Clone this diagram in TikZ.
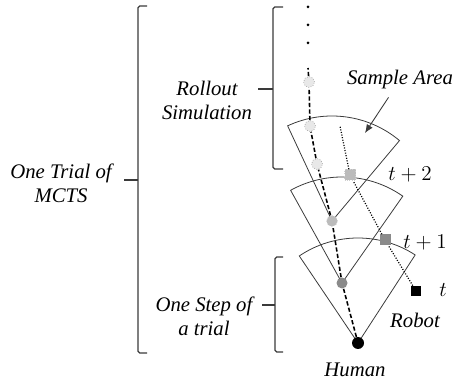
\documentclass[tikz,border=0pt]{standalone}
\usepackage{fontspec}
\setmainfont{Liberation Serif}
\usetikzlibrary{arrows.meta,backgrounds}
\definecolor{ink}{HTML}{3A3A3A}
\definecolor{paleGrey}{HTML}{E8E8E8}
\definecolor{lightGrey}{HTML}{BBBBBB}
\definecolor{midGrey}{HTML}{8A8A8A}
\tikzset{
  caption/.style={font=\fontsize{11.8}{13.7}\selectfont\itshape, align=center, inner sep=1pt},
  timelbl/.style={font=\fontsize{12}{14}\selectfont, inner sep=1pt},
  sector/.style={draw=ink, line width=0.45pt},
  brace/.style={draw=ink, line width=0.7pt, rounded corners=1pt},
  humanpos/.style={circle, fill=black, minimum size=0.24cm, inner sep=0pt},
  nextpos/.style={circle, fill=midGrey, minimum size=0.22cm, inner sep=0pt},
  futurepos/.style={circle, fill=lightGrey, draw=lightGrey!70, densely dotted, minimum size=0.22cm, inner sep=0pt},
  rolloutpos/.style={circle, fill=paleGrey, draw=gray!70, densely dotted, minimum size=0.22cm, inner sep=0pt},
  robotpos/.style={rectangle, fill=black, minimum size=0.2cm, inner sep=0pt},
  robotnext/.style={rectangle, fill=midGrey, minimum size=0.22cm, inner sep=0pt},
  robotfuture/.style={rectangle, fill=lightGrey, draw=lightGrey!70, densely dotted, minimum size=0.22cm, inner sep=0pt},
  ellipsisdot/.style={circle, fill=black, minimum size=0.06cm, inner sep=0pt},
  simpath/.style={draw=black, line width=0.9pt, dash pattern=on 2.4pt off 1.3pt},
  robotpath/.style={draw=black, line width=0.7pt, dash pattern=on 0.6pt off 0.9pt},
  pointer/.style={-{Latex[length=1.7mm,width=1.4mm]}, draw=ink, line width=0.5pt}
}

\begin{document}
\begin{tikzpicture}[x=0.02cm, y=0.02cm]
\useasboundingbox (0,0) rectangle (453,382);
% human and its predicted steps
\node[humanpos] (human) at (358,39) {};
\node[nextpos] (step1) at (342,99) {};
\node[futurepos] (step2) at (332,161) {};
\node[rolloutpos] (roll1) at (317,218) {};
\node[rolloutpos] (roll2) at (310,256) {};
\node[rolloutpos] (roll3) at (309,300) {};
\coordinate (rollend) at (308,314);
\node[ellipsisdot] (dot1) at (308,339) {};
\node[ellipsisdot] (dot2) at (308,357) {};
\node[ellipsisdot] (dot3) at (308,375) {};
% robot and its steps
\node[robotpos] (robot) at (416,91) {};
\node[robotnext] (robot1) at (385,142) {};
\node[robotfuture] (robot2) at (350,207) {};
\coordinate (robotend) at (340,256);
% sample areas
\begin{scope}[on background layer]
\draw[sector] (human.center) -- ++(57:105) arc[start angle=57, end angle=124, radius=105] -- cycle;
\draw[sector] (step1.center) -- ++(55:106) arc[start angle=55, end angle=119, radius=106] -- cycle;
\draw[sector] (step2.center) -- ++(50:105) arc[start angle=50, end angle=115, radius=105] -- cycle;
\end{scope}
\draw[simpath] (human) -- (step1) -- (step2) -- (roll1) -- (roll2) -- (roll3) -- (rollend);
\draw[robotpath] (robot) -- (robot1) -- (robot2) -- (robotend);
% labels
\node[caption] (humanlbl) at (355,12) {Human};
\node[caption] (robotlbl) at (415,62) {Robot};
\node[caption] (samplearea) at (400,302) {Sample Area};
\coordinate (areatip) at (365,249);
\draw[pointer, shorten <=4pt] (samplearea) -- (areatip);
\node[timelbl] (t0) at (443,92) {$t$};
\node[timelbl] (t1) at (425,139) {$t+1$};
\node[timelbl] (t2) at (410,207) {$t+2$};
\node[caption] (rollout) at (207,282) {Rollout\\Simulation};
\node[caption] (trial) at (61,199) {One Trial of\\MCTS};
\node[caption] (onestep) at (204,66) {One Step of\\a trial};
% brackets
\draw[brace] (147,376) -- (138,376) -- (138,29) -- (147,29);
\draw[brace] (124,202) -- (138,202);
\draw[brace] (283,375) -- (273,375) -- (273,213) -- (283,213);
\draw[brace] (258,293) -- (273,293);
\draw[brace] (283,125) -- (275,125) -- (275,30) -- (283,30);
\draw[brace] (262,77) -- (275,77);
\end{tikzpicture}
\end{document}
